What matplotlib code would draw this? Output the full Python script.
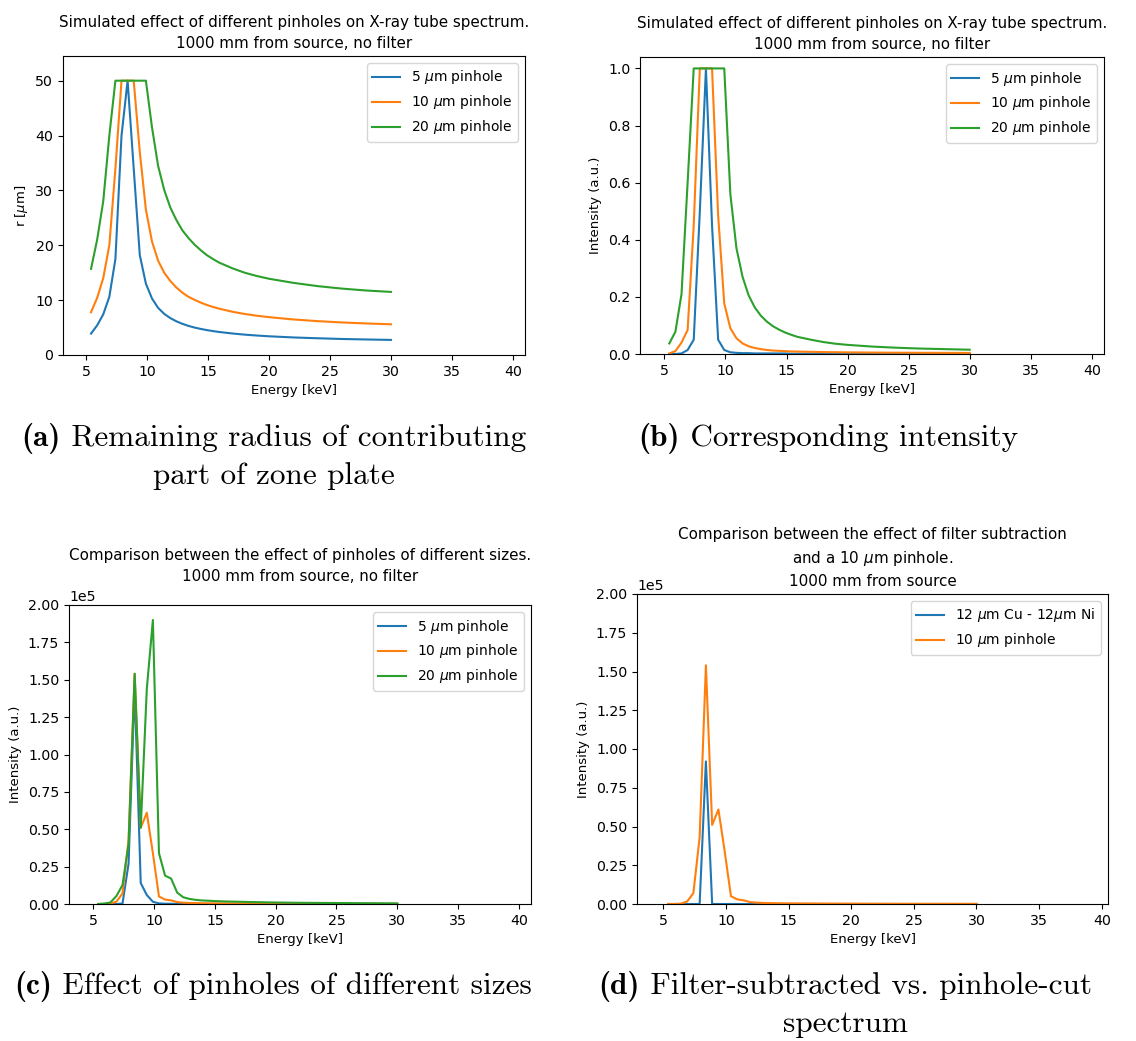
"""
Pinhole vs. filter comparison figure (four panels with LaTeX-style captions).
"""

import matplotlib
matplotlib.use("Agg")
import matplotlib.pyplot as plt

plt.rcParams["mathtext.fontset"] = "dejavusans"

# ── Data ──────────────────────────────────────────────────────────────────────

energy_kev = [5.4, 5.9, 6.4, 6.9, 7.4, 7.9, 8.4, 8.9, 9.4, 9.9, 10.4, 10.9, 11.4,
              11.9, 12.4, 12.9, 13.4, 13.9, 14.4, 14.9, 15.4, 15.9,
              17, 18, 19, 20, 22, 24, 26, 28, 30]

# (a) remaining radius of the contributing zone plate part [um]
radius_5um = [3.9, 5.4, 7.4, 10.6, 17.5, 40.0, 50.0, 34.0, 18.2, 13.0, 10.3, 8.6, 7.5,
              6.73, 6.14, 5.68, 5.3, 5.0, 4.75, 4.54, 4.36, 4.2,
              3.92, 3.71, 3.55, 3.41, 3.2, 3.05, 2.92, 2.83, 2.75]
radius_10um = [7.8, 10.4, 14.0, 20.0, 34.0, 50.0, 50.0, 50.0, 37.0, 26.5, 20.7, 17.2, 15.0,
               13.5, 12.3, 11.35, 10.6, 10.05, 9.55, 9.12, 8.76, 8.45,
               7.88, 7.48, 7.16, 6.9, 6.48, 6.17, 5.93, 5.75, 5.6]
radius_20um = [15.7, 21.0, 28.0, 40.0, 50.0, 50.0, 50.0, 50.0, 50.0, 50.0, 41.5, 34.5, 30.1,
               26.9, 24.6, 22.7, 21.3, 20.1, 19.1, 18.2, 17.5, 16.85,
               15.8, 15.0, 14.4, 13.9, 13.15, 12.55, 12.1, 11.75, 11.5]

# (b) corresponding normalised intensity
intens_5um = [0.0, 0.0, 0.002, 0.014, 0.05, 0.5, 1.0, 0.45, 0.05, 0.014, 0.006, 0.004, 0.003,
              0.003, 0.002, 0.002, 0.002, 0.002, 0.002, 0.002, 0.001, 0.001,
              0.001, 0.001, 0.001, 0.001, 0.001, 0.001, 0.001, 0.001, 0.001]
intens_10um = [0.002, 0.01, 0.04, 0.084, 0.45, 1.0, 1.0, 1.0, 0.485, 0.177, 0.09, 0.055, 0.037,
               0.027, 0.021, 0.017, 0.014, 0.012, 0.011, 0.010, 0.009, 0.0085,
               0.0075, 0.0068, 0.0062, 0.0057, 0.005, 0.0045, 0.0042, 0.004, 0.0038]
intens_20um = [0.037, 0.078, 0.21, 0.6, 1.0, 1.0, 1.0, 1.0, 1.0, 1.0, 0.56, 0.37, 0.27,
               0.205, 0.163, 0.134, 0.113, 0.097, 0.085, 0.075, 0.067, 0.06,
               0.05, 0.042, 0.036, 0.032, 0.026, 0.022, 0.019, 0.017, 0.015]

# (c) / (d) transmitted spectra [counts]
spec_5um = [0, 0, 0, 0, 300, 27000, 145000, 14000, 6000, 1500, 400, 200, 150,
            100, 100, 100, 80, 80, 70, 70, 60, 60,
            50, 40, 40, 30, 30, 20, 20, 20, 20]
spec_10um = [0, 0, 200, 1600, 7000, 43000, 154000, 51000, 61000, 34000, 5000, 3000, 2400,
             1300, 900, 700, 600, 500, 450, 420, 400, 370,
             320, 280, 250, 220, 180, 150, 130, 110, 100]
spec_20um = [0, 300, 1000, 5300, 12700, 40000, 154000, 51000, 144000, 190000, 34000, 19000, 17000,
             7600, 4500, 3400, 2800, 2400, 2200, 2000, 1850, 1700,
             1500, 1300, 1150, 1000, 800, 700, 600, 500, 400]
spec_filter = [0, 0, 0, 0, 0, 0, 92000, 0, 0, 0, 0, 0, 0,
               0, 0, 0, 0, 0, 0, 0, 0, 0,
               0, 0, 0, 0, 0, 0, 0, 0, 0]

pinhole_labels = [r"5 $\mu$m pinhole", r"10 $\mu$m pinhole", r"20 $\mu$m pinhole"]
x_ticks = [5, 10, 15, 20, 25, 30, 35, 40]

TITLE_AB = "Simulated effect of different pinholes on X-ray tube spectrum.\n1000 mm from source, no filter"
TITLE_C = "Comparison between the effect of pinholes of different sizes.\n1000 mm from source, no filter"
TITLE_D = ("Comparison between the effect of filter subtraction\n"
           "and a 10 $\\mu$m pinhole.\n1000 mm from source")

W, H = 1136, 1041


def px_axes(fig, left, right, top, bottom):
    """Add axes from pixel edges (origin top-left)."""
    return fig.add_axes([left / W, 1 - bottom / H, (right - left) / W, (bottom - top) / H])


def style_axes(ax, title, ylabel, xlim):
    ax.set_title(title, fontsize=10.9, linespacing=1.5)
    ax.set_xlabel("Energy [keV]", fontsize=9.5)
    ax.set_ylabel(ylabel, fontsize=9.5)
    ax.set_xticks(x_ticks)
    ax.set_xlim(*xlim)
    ax.tick_params(labelsize=10.2)
    ax.yaxis.get_offset_text().set_fontsize(10.2)
    ax.legend(loc="upper right", fontsize=10)


def caption(fig, renderer, cx, baseline, label, first, second=None, size=22.5):
    """Bold '(x)' label followed by roman text, centred at cx (pixels)."""
    y = 1 - baseline / H
    t_lab = fig.text(0, y, label, family="cmb10", fontsize=size, va="baseline")
    t_txt = fig.text(0, y, " " + first, family="cmr10", fontsize=size, va="baseline")
    w_lab = t_lab.get_window_extent(renderer).width
    w_txt = t_txt.get_window_extent(renderer).width
    x0 = cx - (w_lab + w_txt) / 2
    t_lab.set_x(x0 / W)
    t_txt.set_x((x0 + w_lab) / W)
    if second:
        fig.text(cx / W, 1 - (baseline + 38) / H, second, family="cmr10",
                 fontsize=size, ha="center", va="baseline")


fig = plt.figure(figsize=(W / 100, H / 100), dpi=100)

# ── (a) radius ────────────────────────────────────────────────────────────────
ax = px_axes(fig, 63, 525, 56, 355)
for ys, lbl in zip([radius_5um, radius_10um, radius_20um], pinhole_labels):
    ax.plot(energy_kev, ys, label=lbl)
ax.set_ylim(0, 54.5)
style_axes(ax, TITLE_AB, r"r [$\mu$m]", (3.1, 41.0))

# ── (b) intensity ─────────────────────────────────────────────────────────────
ax = px_axes(fig, 640, 1104, 57, 354)
for ys, lbl in zip([intens_5um, intens_10um, intens_20um], pinhole_labels):
    ax.plot(energy_kev, ys, label=lbl)
ax.set_ylim(0, 1.04)
style_axes(ax, TITLE_AB, "Intensity (a.u.)", (3.0, 41.0))

# ── (c) pinhole spectra ───────────────────────────────────────────────────────
ax = px_axes(fig, 69, 531, 605, 904)
for ys, lbl in zip([spec_5um, spec_10um, spec_20um], pinhole_labels):
    ax.plot(energy_kev, ys, label=lbl)
ax.set_ylim(0, 2e5)
ax.ticklabel_format(axis="y", style="sci", scilimits=(0, 0))
style_axes(ax, TITLE_C, "Intensity (a.u.)", (3.0, 41.0))

# ── (d) filter vs pinhole ─────────────────────────────────────────────────────
ax = px_axes(fig, 637, 1108, 594, 904)
ax.plot(energy_kev, spec_filter, label=r"12 $\mu$m Cu - 12$\mu$m Ni")
ax.plot(energy_kev, spec_10um, label=r"10 $\mu$m pinhole")
ax.set_ylim(0, 2e5)
ax.ticklabel_format(axis="y", style="sci", scilimits=(0, 0))
style_axes(ax, TITLE_D, "Intensity (a.u.)", (2.9, 40.5))

# ── Captions ──────────────────────────────────────────────────────────────────
renderer = fig.canvas.get_renderer()
caption(fig, renderer, 274, 446, "(a)", "Remaining radius of contributing", "part of zone plate")
caption(fig, renderer, 828, 446, "(b)", "Corresponding intensity")
caption(fig, renderer, 273, 994, "(c)", "Effect of pinholes of different sizes")
caption(fig, renderer, 845, 994, "(d)", "Filter-subtracted vs. pinhole-cut", "spectrum")

fig.savefig("out.png", dpi=100)
